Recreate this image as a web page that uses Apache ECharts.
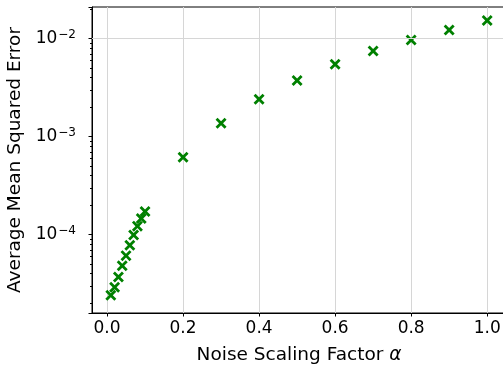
<!DOCTYPE html>
<html>
<head>
<meta charset="utf-8">
<script src="https://cdn.jsdelivr.net/npm/echarts@6/dist/echarts.min.js"></script>
<style>html,body{margin:0;padding:0;background:#fff;}#c{width:503px;height:370px;}</style>
</head>
<body>
<div id="c"></div>
<script>
const alphas = [0.01, 0.02, 0.03, 0.04, 0.05, 0.06, 0.07, 0.08, 0.09, 0.10,
                0.2, 0.3, 0.4, 0.5, 0.6, 0.7, 0.8, 0.9, 1.0];
const mse = [2.4e-5, 2.9e-5, 3.7e-5, 4.8e-5, 6.1e-5, 7.8e-5, 9.9e-5, 1.22e-4, 1.46e-4, 1.72e-4,
             6.14e-4, 1.37e-3, 2.41e-3, 3.74e-3, 5.46e-3, 7.46e-3, 9.68e-3, 1.225e-2, 1.53e-2];
const xTicks = [0.0, 0.2, 0.4, 0.6, 0.8, 1.0];
const yMajorTicks = [1e-4, 1e-3, 1e-2];
const yMinorTicks = [2e-5,3e-5,4e-5,5e-5,6e-5,7e-5,8e-5,9e-5,
                     2e-4,3e-4,4e-4,5e-4,6e-4,7e-4,8e-4,9e-4,
                     2e-3,3e-3,4e-3,5e-3,6e-3,7e-3,8e-3,9e-3,2e-2];
const yMin = 1.585e-5, yMax = 0.021;

const FONT = 'DejaVu Sans';
const TICK_FS = 17;
const NAME_FS = 18.5;
const GRID_COLOR = '#d6d6d6';
const RECT = {left: 92, top: 7, width: 414, height: 306};
const chart = echarts.init(document.getElementById('c'), null, {renderer: 'canvas'});
const xSym = 'path://M0,1.8L1.8,0L5,3.2L8.2,0L10,1.8L6.8,5L10,8.2L8.2,10L5,6.8L1.8,10L0,8.2L3.2,5Z';

chart.setOption({
  animation: false,
  backgroundColor: '#fff',
  grid: [
    Object.assign({show: true, borderColor: '#000', borderWidth: 1, backgroundColor: 'transparent',
                   containLabel: false, outerBoundsMode: 'none'}, RECT),
    Object.assign({show: false, containLabel: false, outerBoundsMode: 'none'}, RECT)
  ],
  xAxis: [{
    type: 'value', min: -0.0395, max: 1.0495,
    name: '{n|Noise Scaling Factor }{a|α}', nameLocation: 'middle', nameGap: 33,
    nameTextStyle: {rich: {n: {fontFamily: FONT, fontSize: NAME_FS, color: '#000'}, a: {fontFamily: FONT, fontSize: NAME_FS, fontStyle: 'italic', color: '#000'}}},
    axisLine: {show: true, onZero: false, lineStyle: {color: '#000', width: 1}},
    axisTick: {show: true, length: 3.5, lineStyle: {color: '#000'}, customValues: xTicks},
    axisLabel: {customValues: xTicks, margin: 7, fontFamily: FONT, fontSize: TICK_FS, color: '#000', formatter: v => v.toFixed(1)},
    splitLine: {show: true, lineStyle: {color: GRID_COLOR, width: 1}}
  }, {
    gridIndex: 1, type: 'value', min: 0, max: 1, show: false
  }],
  yAxis: [{
    type: 'log', min: yMin, max: yMax, logBase: 10,
    name: 'Average Mean Squared Error', nameLocation: 'middle', nameGap: 67,
    nameTextStyle: {fontFamily: FONT, fontSize: NAME_FS, color: '#000'},
    axisLine: {show: true, onZero: false, lineStyle: {color: '#000', width: 1}},
    axisTick: {show: true, length: 3.5, lineStyle: {color: '#000', width: 1}},
    axisLabel: {customValues: yMajorTicks, margin: 16,
      formatter: v => '{b|10}{s|−' + Math.abs(Math.round(Math.log10(v))) + '}',
      rich: {b: {fontFamily: FONT, fontSize: TICK_FS, color: '#000'},
             s: {fontFamily: FONT, fontSize: 12, color: '#000', padding: [0, 0, 8, 1]}}},
    splitLine: {show: false}
  }, {
    gridIndex: 1, type: 'log', min: yMin, max: yMax, logBase: 10, position: 'left',
    axisLine: {show: false},
    axisTick: {show: true, length: 2, lineStyle: {color: '#000', width: 1}, customValues: yMinorTicks},
    axisLabel: {show: false},
    splitLine: {show: false}
  }],
  series: [{
    type: 'scatter',
    data: [],
    z: 1,
    silent: true,
    markLine: {
      silent: true, symbol: 'none', animation: false,
      label: {show: false},
      lineStyle: {color: GRID_COLOR, width: 1, type: 'solid'},
      data: yMajorTicks.map(v => ({yAxis: v}))
    }
  }, {
    type: 'scatter', xAxisIndex: 1, yAxisIndex: 1, data: [], silent: true
  }, {
    type: 'scatter',
    z: 2,
    data: alphas.map((a, i) => [a, mse[i]]),
    symbol: xSym, symbolSize: 11,
    itemStyle: {color: '#008000', opacity: 1},
    clip: false
  }]
});
</script>
</body>
</html>
